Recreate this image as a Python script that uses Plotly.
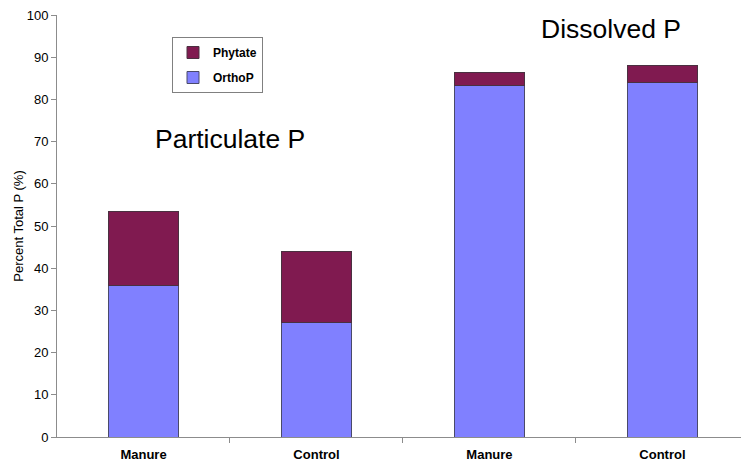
import plotly.graph_objects as go

# Sample groups along the x axis
categories = ["Manure", "Control", "Manure", "Control"]
# Percent of total P in each fraction
ortho_p = [36.0, 27.1, 83.2, 84.0]
phytate = [17.4, 16.8, 3.1, 4.0]
y_ticks = list(range(0, 101, 10))

x_pos = list(range(len(categories)))

fig = go.Figure()
fig.add_trace(go.Bar(
    x=x_pos, y=ortho_p, name="OrthoP", legendgroup="o", legendrank=2,
    marker=dict(color="#8080ff", line=dict(color="#4a4a6a", width=1)),
    width=0.4,
))
fig.add_trace(go.Bar(
    x=x_pos, y=phytate, name="Phytate", legendgroup="p", legendrank=1,
    marker=dict(color="#801a50", line=dict(color="#4a3040", width=1)),
    width=0.4,
))

font_family = "Liberation Sans, Arial, sans-serif"

fig.update_layout(
    width=741, height=463,
    barmode="stack",
    plot_bgcolor="white", paper_bgcolor="white",
    margin=dict(l=57, r=0, t=15, b=26),
    font=dict(family=font_family, color="black"),
    showlegend=True,
    legend=dict(
        x=(172 - 57) / 684, y=(437 - 37) / 422, xanchor="left", yanchor="top",
        traceorder="grouped", tracegroupgap=6,
        bgcolor="white", bordercolor="#808080", borderwidth=1,
        font=dict(size=12, family=font_family, weight="bold"),
        itemwidth=30,
    ),
    xaxis=dict(
        range=[-0.5, 3.454],
        tickvals=x_pos, ticktext=categories,
        ticks="", showline=True, linecolor="#8c8c8c", linewidth=1,
        tickfont=dict(size=13, weight="bold"),
        ticklabelstandoff=5,
        showgrid=False, zeroline=False,
        minor=dict(tickvals=[0.5, 1.5, 2.5], ticks="outside", ticklen=5,
                   tickcolor="#8c8c8c", showgrid=False),
    ),
    yaxis=dict(
        range=[0, 100], tickvals=y_ticks,
        ticks="outside", ticklen=5, tickcolor="#8c8c8c",
        showline=True, linecolor="#8c8c8c", linewidth=1,
        showgrid=False, zeroline=False,
        tickfont=dict(size=13),
        title=dict(text="Percent Total P (%)", font=dict(size=13), standoff=0),
    ),
    annotations=[
        dict(text="Particulate P", x=0.5, y=70.6, xref="x", yref="y",
             showarrow=False, font=dict(size=26.5)),
        dict(text="Dissolved P", x=2.7, y=96.6, xref="x", yref="y",
             showarrow=False, font=dict(size=26.5)),
    ],
)

fig.write_html("out.html")
